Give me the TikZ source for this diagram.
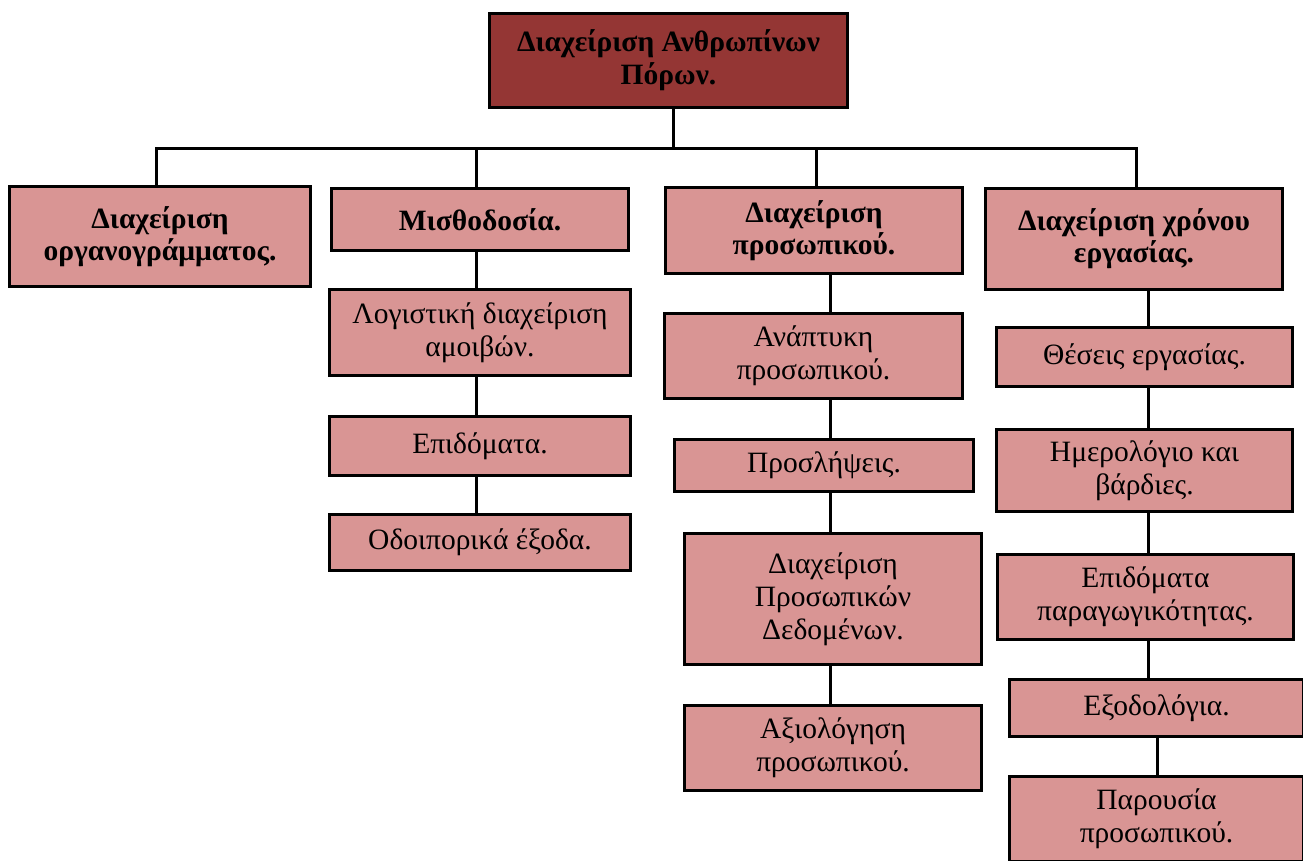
\documentclass[tikz,border=0pt]{standalone}
\usepackage{fontspec}
\setmainfont{Liberation Serif}
\definecolor{topred}{HTML}{943634}
\definecolor{pinkbox}{HTML}{D99594}
\begin{document}
\begin{tikzpicture}[x=1pt,y=-1pt,
  base/.style={draw=black,line width=3pt,inner sep=0pt,align=center,
    font=\fontsize{29.5}{33}\selectfont},
  topbox/.style={base,fill=topred,font=\fontsize{29.5}{33}\selectfont\bfseries},
  headbox/.style={base,fill=pinkbox,font=\fontsize{29.5}{32}\selectfont\bfseries},
  subbox/.style={base,fill=pinkbox},
  conn/.style={draw=black,line width=3pt}]
\useasboundingbox (0,0) rectangle (1303,860);
\clip (0,0) rectangle (1303,860);
% coordinates for connector columns
\coordinate (bar) at (673,148);
\coordinate (col2) at (476,0);
\coordinate (col3) at (830,0);
\coordinate (col4) at (1148,0);
\coordinate (col4b) at (1157,0);
\node[topbox,minimum width=358,minimum height=94] (top) at (668.5,60.5) {Διαχείριση Ανθρωπίνων\\Πόρων.};
\node[headbox,minimum width=301,minimum height=100] (b1) at (160,236.5) {Διαχείριση\\οργανογράμματος.};
\node[headbox,minimum width=297,minimum height=62] (b2) at (480,219.5) {Μισθοδοσία.};
\node[headbox,minimum width=297,minimum height=86] (b3) at (814,230.5) {Διαχείριση\\προσωπικού.};
\node[headbox,minimum width=297,minimum height=101] (b4) at (1134,239) {Διαχείριση χρόνου\\εργασίας.};
\node[subbox,minimum width=301,minimum height=86] (c2a) at (480,332.5) {Λογιστική διαχείριση\\αμοιβών.};
\node[subbox,minimum width=301,minimum height=59] (c2b) at (480,446) {Επιδόματα.};
\node[subbox,minimum width=301,minimum height=56] (c2c) at (480,542.5) {Οδοιπορικά έξοδα.};
\node[subbox,minimum width=298,minimum height=85] (c3a) at (813.5,356) {Ανάπτυκη\\προσωπικού.};
\node[subbox,minimum width=299,minimum height=52] (c3b) at (824,465.5) {Προσλήψεις.};
\node[subbox,minimum width=297,minimum height=131] (c3c) at (833,599) {Διαχείριση\\Προσωπικών\\Δεδομένων.};
\node[subbox,minimum width=297,minimum height=85] (c3d) at (833,748) {Αξιολόγηση\\προσωπικού.};
\node[subbox,minimum width=296,minimum height=59] (c4a) at (1144.5,357) {Θέσεις εργασίας.};
\node[subbox,minimum width=296,minimum height=82] (c4b) at (1144.5,470.5) {Ημερολόγιο και\\βάρδιες.};
\node[subbox,minimum width=296,minimum height=85] (c4c) at (1145.5,597) {Επιδόματα\\παραγωγικότητας.};
\node[subbox,minimum width=294,minimum height=57] (c4d) at (1156.5,708) {Εξοδολόγια.};
\node[subbox,minimum width=294,minimum height=85] (c4e) at (1156.5,819) {Παρουσία\\προσωπικού.};
% tree connectors
\draw[conn] (top.south -| bar) -- (bar);
\draw[conn] (bar) -| ([xshift=-4pt]b1.north);
\draw[conn] (bar) -| ([xshift=-4pt]b2.north);
\draw[conn] (bar) -| ([xshift=2pt]b3.north);
\draw[conn] (bar) -| ([xshift=2pt]b4.north);
% column 2
\draw[conn] (b2.south -| col2) -- (c2a.north -| col2);
\draw[conn] (c2a.south -| col2) -- (c2b.north -| col2);
\draw[conn] (c2b.south -| col2) -- (c2c.north -| col2);
% column 3
\draw[conn] (b3.south -| col3) -- (c3a.north -| col3);
\draw[conn] (c3a.south -| col3) -- (c3b.north -| col3);
\draw[conn] (c3b.south -| col3) -- (c3c.north -| col3);
\draw[conn] (c3c.south -| col3) -- (c3d.north -| col3);
% column 4
\draw[conn] (b4.south -| col4) -- (c4a.north -| col4);
\draw[conn] (c4a.south -| col4) -- (c4b.north -| col4);
\draw[conn] (c4b.south -| col4) -- (c4c.north -| col4);
\draw[conn] (c4c.south -| col4) -- (c4d.north -| col4);
\draw[conn] (c4d.south -| col4b) -- (c4e.north -| col4b);
\end{tikzpicture}
\end{document}
